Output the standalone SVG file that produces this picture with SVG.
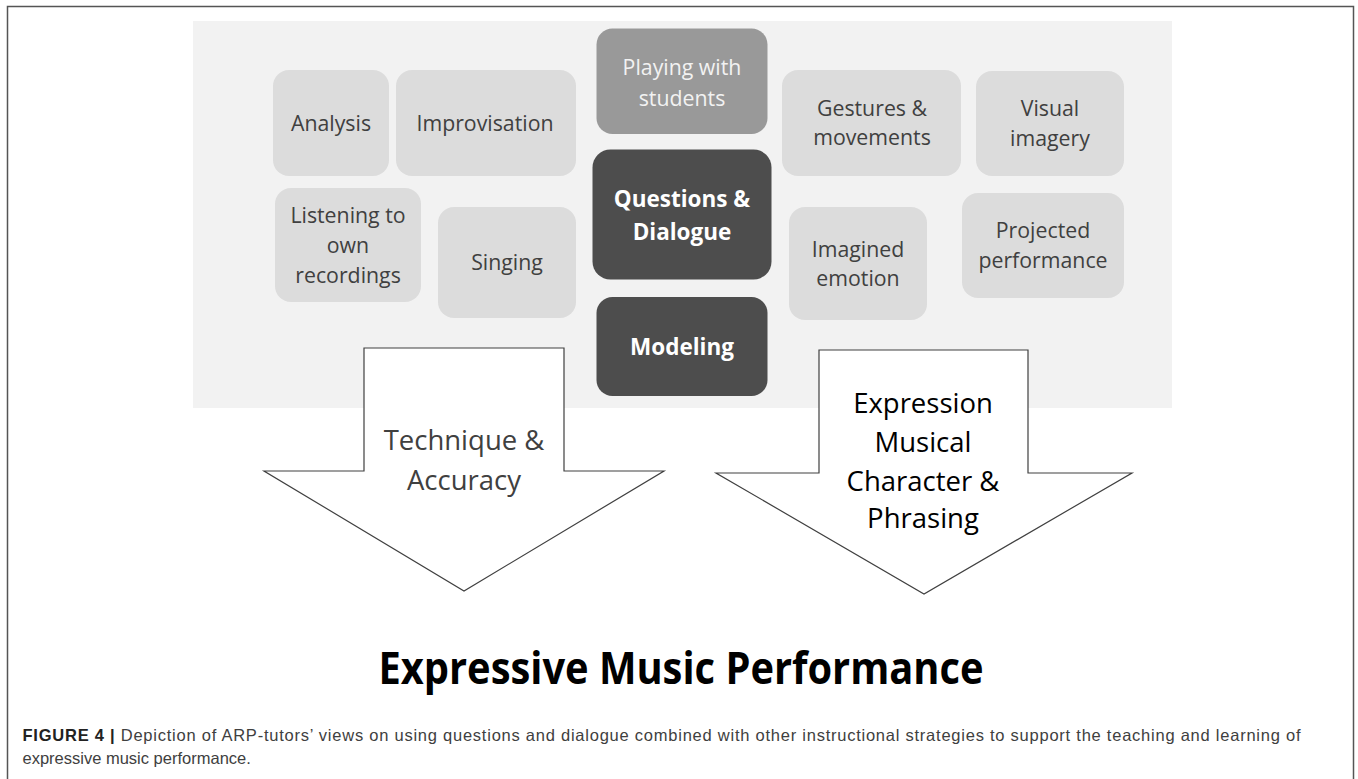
<svg xmlns="http://www.w3.org/2000/svg" width="1358" height="779" viewBox="0 0 1358 779">
<style>
.panel{fill:#f2f2f2}
.lt{fill:#dcdcdc}
.mid{fill:#999999}
.dk{fill:#4d4d4d}
.t{font-family:"Open Sans","Liberation Sans",sans-serif;font-size:21.3px;fill:#404040;text-anchor:middle}
.tw{font-family:"Open Sans","Liberation Sans",sans-serif;font-size:21.3px;fill:#f2f2f2;text-anchor:middle}
.tb{font-family:"Open Sans","Liberation Sans",sans-serif;font-size:22.5px;font-weight:bold;fill:#ffffff;text-anchor:middle}
.arr{fill:#ffffff;stroke:#404040;stroke-width:1.2}
.at{font-family:"Open Sans","Liberation Sans",sans-serif;font-size:27.5px;text-anchor:middle}
.cap{font-family:"Liberation Sans",Arial,sans-serif;font-size:16.5px;fill:#404040}
</style>
<rect x="0" y="0" width="1358" height="779" fill="#ffffff"/>
<rect x="7.5" y="6.5" width="1346" height="800" fill="none" stroke="#555555" stroke-width="1.5"/>
<rect class="panel" x="193" y="21" width="979" height="387"/>

<g id="analysis"><rect class="lt" x="273" y="70" width="116" height="106" rx="16"/><text class="t" x="331" y="131">Analysis</text></g>
<g id="improvisation"><rect class="lt" x="396" y="70" width="180" height="106" rx="16"/><text class="t" x="485" y="131">Improvisation</text></g>
<g id="listening"><rect class="lt" x="275" y="188" width="146" height="114" rx="16"/><text class="t" x="348" y="223">Listening to</text><text class="t" x="348" y="253">own</text><text class="t" x="348" y="283">recordings</text></g>
<g id="singing"><rect class="lt" x="438" y="207" width="138" height="111" rx="16"/><text class="t" x="507" y="270">Singing</text></g>
<g id="playing"><rect class="mid" x="596.5" y="28.5" width="171" height="105.5" rx="16"/><text class="tw" x="682" y="75">Playing with</text><text class="tw" x="682" y="106">students</text></g>
<g id="questions"><rect class="dk" x="592.5" y="149.5" width="179" height="130" rx="18"/><text class="tb" x="682" y="207">Questions &amp;</text><text class="tb" x="682" y="240">Dialogue</text></g>
<g id="modeling"><rect class="dk" x="596.5" y="297" width="171" height="99" rx="16"/><text class="tb" x="682" y="355">Modeling</text></g>
<g id="gestures"><rect class="lt" x="782" y="70" width="179" height="106" rx="16"/><text class="t" x="872" y="116">Gestures &amp;</text><text class="t" x="872" y="145">movements</text></g>
<g id="visual"><rect class="lt" x="976" y="71" width="148" height="105" rx="16"/><text class="t" x="1050" y="116">Visual</text><text class="t" x="1050" y="146">imagery</text></g>
<g id="imagined"><rect class="lt" x="789" y="207" width="138" height="113" rx="16"/><text class="t" x="858" y="257">Imagined</text><text class="t" x="858" y="286">emotion</text></g>
<g id="projected"><rect class="lt" x="962" y="193" width="162" height="105" rx="16"/><text class="t" x="1043" y="238">Projected</text><text class="t" x="1043" y="268">performance</text></g>

<g id="connectors">
<g id="arrow-technique"><polygon class="arr" points="364,348 564,348 564,471 664,471 464,591 264,471 364,471"/>
<text class="at" x="464" y="450" font-size="28" fill="#404040">Technique &amp;</text><text class="at" x="464" y="490" font-size="28" fill="#404040">Accuracy</text></g>
<g id="arrow-expression"><polygon class="arr" points="819,350 1028,350 1028,473 1132,473 924,594 716,473 819,473"/>
<text class="at" x="923" y="413" fill="#000000">Expression</text><text class="at" x="923" y="452" fill="#000000">Musical</text><text class="at" x="923" y="491" fill="#000000">Character &amp;</text><text class="at" x="923" y="528" fill="#000000">Phrasing</text></g>
</g>

<g id="title"><text x="681" y="684" font-family="'Open Sans','Liberation Sans',sans-serif" font-size="44" font-weight="bold" fill="#000000" text-anchor="middle" textLength="605" lengthAdjust="spacingAndGlyphs">Expressive Music Performance</text></g>

<g id="caption">
<text class="cap" x="22.5" y="741" textLength="1278" lengthAdjust="spacing"><tspan font-weight="bold" fill="#222222">FIGURE 4 | </tspan>Depiction of ARP-tutors’ views on using questions and dialogue combined with other instructional strategies to support the teaching and learning of</text>
<text class="cap" x="22.5" y="764">expressive music performance.</text>
</g>
</svg>
